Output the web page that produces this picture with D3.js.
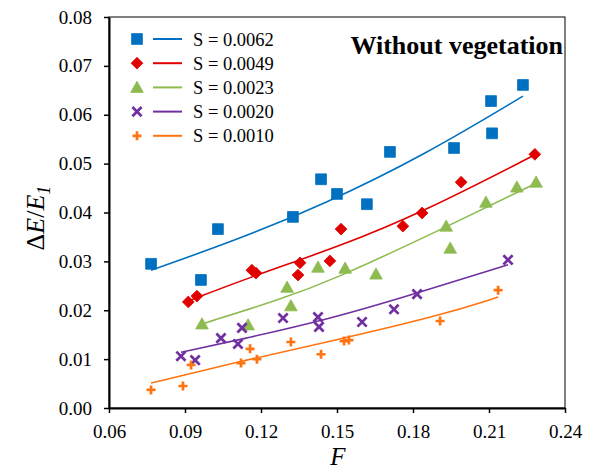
<!DOCTYPE html>
<html>
<head>
	<meta charset="UTF-8">
	<title>Without vegetation</title>
	<style>
		body {
			margin: 0;
			background: white;
			font-family: "Liberation Serif", "Times New Roman", serif;
		}
		.fit {
			fill: none;
			stroke-width: 1.6;
		}
	</style>
</head>
<body>

<svg id="chart" width="614" height="472"></svg>

<script src="https://cdnjs.cloudflare.com/ajax/libs/d3/7.8.5/d3.min.js"></script>
<script>

	// Values
	let seriesNames = ["S = 0.0062", "S = 0.0049", "S = 0.0023", "S = 0.0020", "S = 0.0010"];
	let seriesColors = ["#0070C0", "#E00000", "#8DBB4F", "#7030A0", "#FF7412"];
	let seriesShapes = ["square", "diamond", "triangle", "cross", "plus"];

	// measured points
	let fBlue = [0.0766, 0.0963, 0.1030, 0.1326, 0.1437, 0.1500, 0.1618, 0.1709, 0.1962, 0.2108, 0.2112, 0.2234];
	let yBlue = [0.0295, 0.0262, 0.0366, 0.0391, 0.0468, 0.0438, 0.0417, 0.0524, 0.0532, 0.0628, 0.0562, 0.0661];

	let fRed = [0.0913, 0.0947, 0.1164, 0.1180, 0.1346, 0.1354, 0.1472, 0.1516, 0.1760, 0.1836, 0.1990, 0.2281];
	let yRed = [0.0217, 0.0229, 0.0282, 0.0276, 0.0272, 0.0297, 0.0301, 0.0366, 0.0372, 0.0399, 0.0462, 0.0519];

	let fGreen = [0.0967, 0.1149, 0.1303, 0.1318, 0.1425, 0.1532, 0.1654, 0.1931, 0.1947, 0.2088, 0.2210, 0.2286];
	let yGreen = [0.0172, 0.0170, 0.0247, 0.0209, 0.0288, 0.0286, 0.0274, 0.0372, 0.0327, 0.0421, 0.0452, 0.0462];

	let fPurple = [0.0884, 0.0940, 0.1042, 0.1109, 0.1125, 0.1287, 0.1425, 0.1429, 0.1599, 0.1725, 0.1816, 0.2175];
	let yPurple = [0.0106, 0.0098, 0.0143, 0.0131, 0.0164, 0.0184, 0.0186, 0.0166, 0.0176, 0.0202, 0.0233, 0.0303];

	let fOrange = [0.0766, 0.0892, 0.0924, 0.1121, 0.1157, 0.1184, 0.1318, 0.1437, 0.1528, 0.1547, 0.1907, 0.2136];
	let yOrange = [0.0037, 0.0045, 0.0088, 0.0092, 0.0121, 0.0100, 0.0135, 0.0110, 0.0137, 0.0139, 0.0178, 0.0241];

	// trend curves, read at a few F values along each line
	let lineFBlue = [0.0766, 0.1100, 0.1450, 0.1850, 0.2234];
	let lineYBlue = [0.0282, 0.0343, 0.0417, 0.0519, 0.0638];

	let lineFRed = [0.0913, 0.1169, 0.1512, 0.1836, 0.2281];
	let lineYRed = [0.0219, 0.0270, 0.0331, 0.0400, 0.0518];

	let lineFGreen = [0.0967, 0.1275, 0.1472, 0.1931, 0.2286];
	let lineYGreen = [0.0172, 0.0222, 0.0259, 0.0370, 0.0460];

	let lineFPurple = [0.0884, 0.1109, 0.1472, 0.1816, 0.2175];
	let lineYPurple = [0.0114, 0.0139, 0.0182, 0.0235, 0.0293];

	let lineFOrange = [0.0766, 0.1121, 0.1472, 0.1907, 0.2136];
	let lineYOrange = [0.0051, 0.0096, 0.0136, 0.0189, 0.0227];

	let xTicks = [0.06, 0.09, 0.12, 0.15, 0.18, 0.21, 0.24];
	let yTicks = [0.00, 0.01, 0.02, 0.03, 0.04, 0.05, 0.06, 0.07, 0.08];

	let allF = [fBlue, fRed, fGreen, fPurple, fOrange];
	let allY = [yBlue, yRed, yGreen, yPurple, yOrange];
	let allLineF = [lineFBlue, lineFRed, lineFGreen, lineFPurple, lineFOrange];
	let allLineY = [lineYBlue, lineYRed, lineYGreen, lineYPurple, lineYOrange];

	let width = 614, height = 472;
	let margin = {top: 17, right: 49, bottom: 64, left: 109};

	let svg = d3.select("#chart");

	let x = d3.scaleLinear().domain([0.06, 0.24]).range([margin.left, width - margin.right]);
	let y = d3.scaleLinear().domain([0, 0.08]).range([height - margin.bottom, margin.top]);

	function markerPath(shape) {
		if (shape == "square") return "M-5.4,-5.4H5.4V5.4H-5.4Z";
		if (shape == "diamond") return "M0,-5.9L5.9,0L0,5.9L-5.9,0Z";
		if (shape == "triangle") return "M0,-6.2L6.3,5H-6.3Z";
		if (shape == "cross") return "M-4.6,-4.6L4.6,4.6M-4.6,4.6L4.6,-4.6";
		return "M-4.5,0H4.5M0,-4.5V4.5";
	}

	function drawMarker(g, shape, color) {
		let stroked = (shape == "cross" || shape == "plus");
		g.append("path")
			.attr("d", markerPath(shape))
			.attr("fill", stroked ? "none" : color)
			.attr("stroke", color)
			.attr("stroke-width", stroked ? 2.7 : 0.8)
			.attr("stroke-linejoin", "round");
	}

	// frame
	svg.append("rect")
		.attr("x", x(0.06))
		.attr("y", y(0.08))
		.attr("width", x(0.24) - x(0.06))
		.attr("height", y(0) - y(0.08))
		.attr("fill", "none")
		.attr("stroke", "black")
		.attr("stroke-width", 1);

	// axes
	let xAxis = svg.append("g")
		.attr("transform", "translate(0," + y(0) + ")")
		.call(d3.axisBottom(x).tickValues(xTicks).tickFormat(d3.format(".2f")).tickSize(5).tickSizeOuter(0));

	let yAxis = svg.append("g")
		.attr("transform", "translate(" + x(0.06) + ",0)")
		.call(d3.axisLeft(y).tickValues(yTicks).tickFormat(d3.format(".2f")).tickSize(5).tickSizeOuter(0));

	svg.selectAll(".domain").attr("stroke", "black").attr("stroke-width", 2);
	svg.selectAll(".tick line").attr("stroke", "black").attr("stroke-width", 1.5);
	svg.selectAll(".tick text")
		.attr("font-family", "Liberation Serif, Times New Roman, serif")
		.attr("font-size", 19)
		.attr("fill", "black");
	xAxis.selectAll(".tick text").attr("dy", "0.71em").attr("y", 17);
	yAxis.selectAll(".tick text").attr("x", -17);

	// trend lines
	let trend = d3.line()
		.x(d => x(d[0]))
		.y(d => y(d[1]))
		.curve(d3.curveBasis);

	allLineF.forEach((fs, i) => {
		svg.append("path")
			.datum(fs.map((f, j) => [f, allLineY[i][j]]))
			.attr("class", "fit")
			.attr("stroke", seriesColors[i])
			.attr("d", trend);
	});

	// points
	allF.forEach((fs, i) => {
		fs.forEach((f, j) => {
			let g = svg.append("g").attr("transform", "translate(" + x(f) + "," + y(allY[i][j]) + ")");
			drawMarker(g, seriesShapes[i], seriesColors[i]);
		});
	});

	// legend
	let legend = svg.append("g").attr("transform", "translate(137,39)");
	seriesNames.forEach((name, i) => {
		let row = legend.append("g").attr("transform", "translate(0," + i * 24.2 + ")");
		drawMarker(row, seriesShapes[i], seriesColors[i]);
		row.append("line")
			.attr("x1", 16).attr("x2", 45)
			.attr("stroke", seriesColors[i])
			.attr("stroke-width", 2);
		row.append("text")
			.attr("x", 56)
			.attr("y", 6.5)
			.attr("font-size", 18.5)
			.text(name);
	});

	// title inside plot
	svg.append("text")
		.attr("x", 563)
		.attr("y", 54)
		.attr("text-anchor", "end")
		.attr("font-size", 26)
		.attr("font-weight", "bold")
		.text("Without vegetation");

	// axis titles
	svg.append("text")
		.attr("x", 338)
		.attr("y", 465)
		.attr("text-anchor", "middle")
		.attr("font-size", 25)
		.attr("font-style", "italic")
		.text("F");

	let yTitle = svg.append("text")
		.attr("transform", "translate(44,218) rotate(-90)")
		.attr("text-anchor", "middle")
		.attr("font-size", 26);
	yTitle.append("tspan").text("Δ");
	yTitle.append("tspan").attr("font-style", "italic").text("E");
	yTitle.append("tspan").text("/");
	yTitle.append("tspan").attr("font-style", "italic").text("E");
	yTitle.append("tspan").attr("font-style", "italic").attr("font-size", 18).attr("dy", 6).text("1");

</script>
</body>
</html>
